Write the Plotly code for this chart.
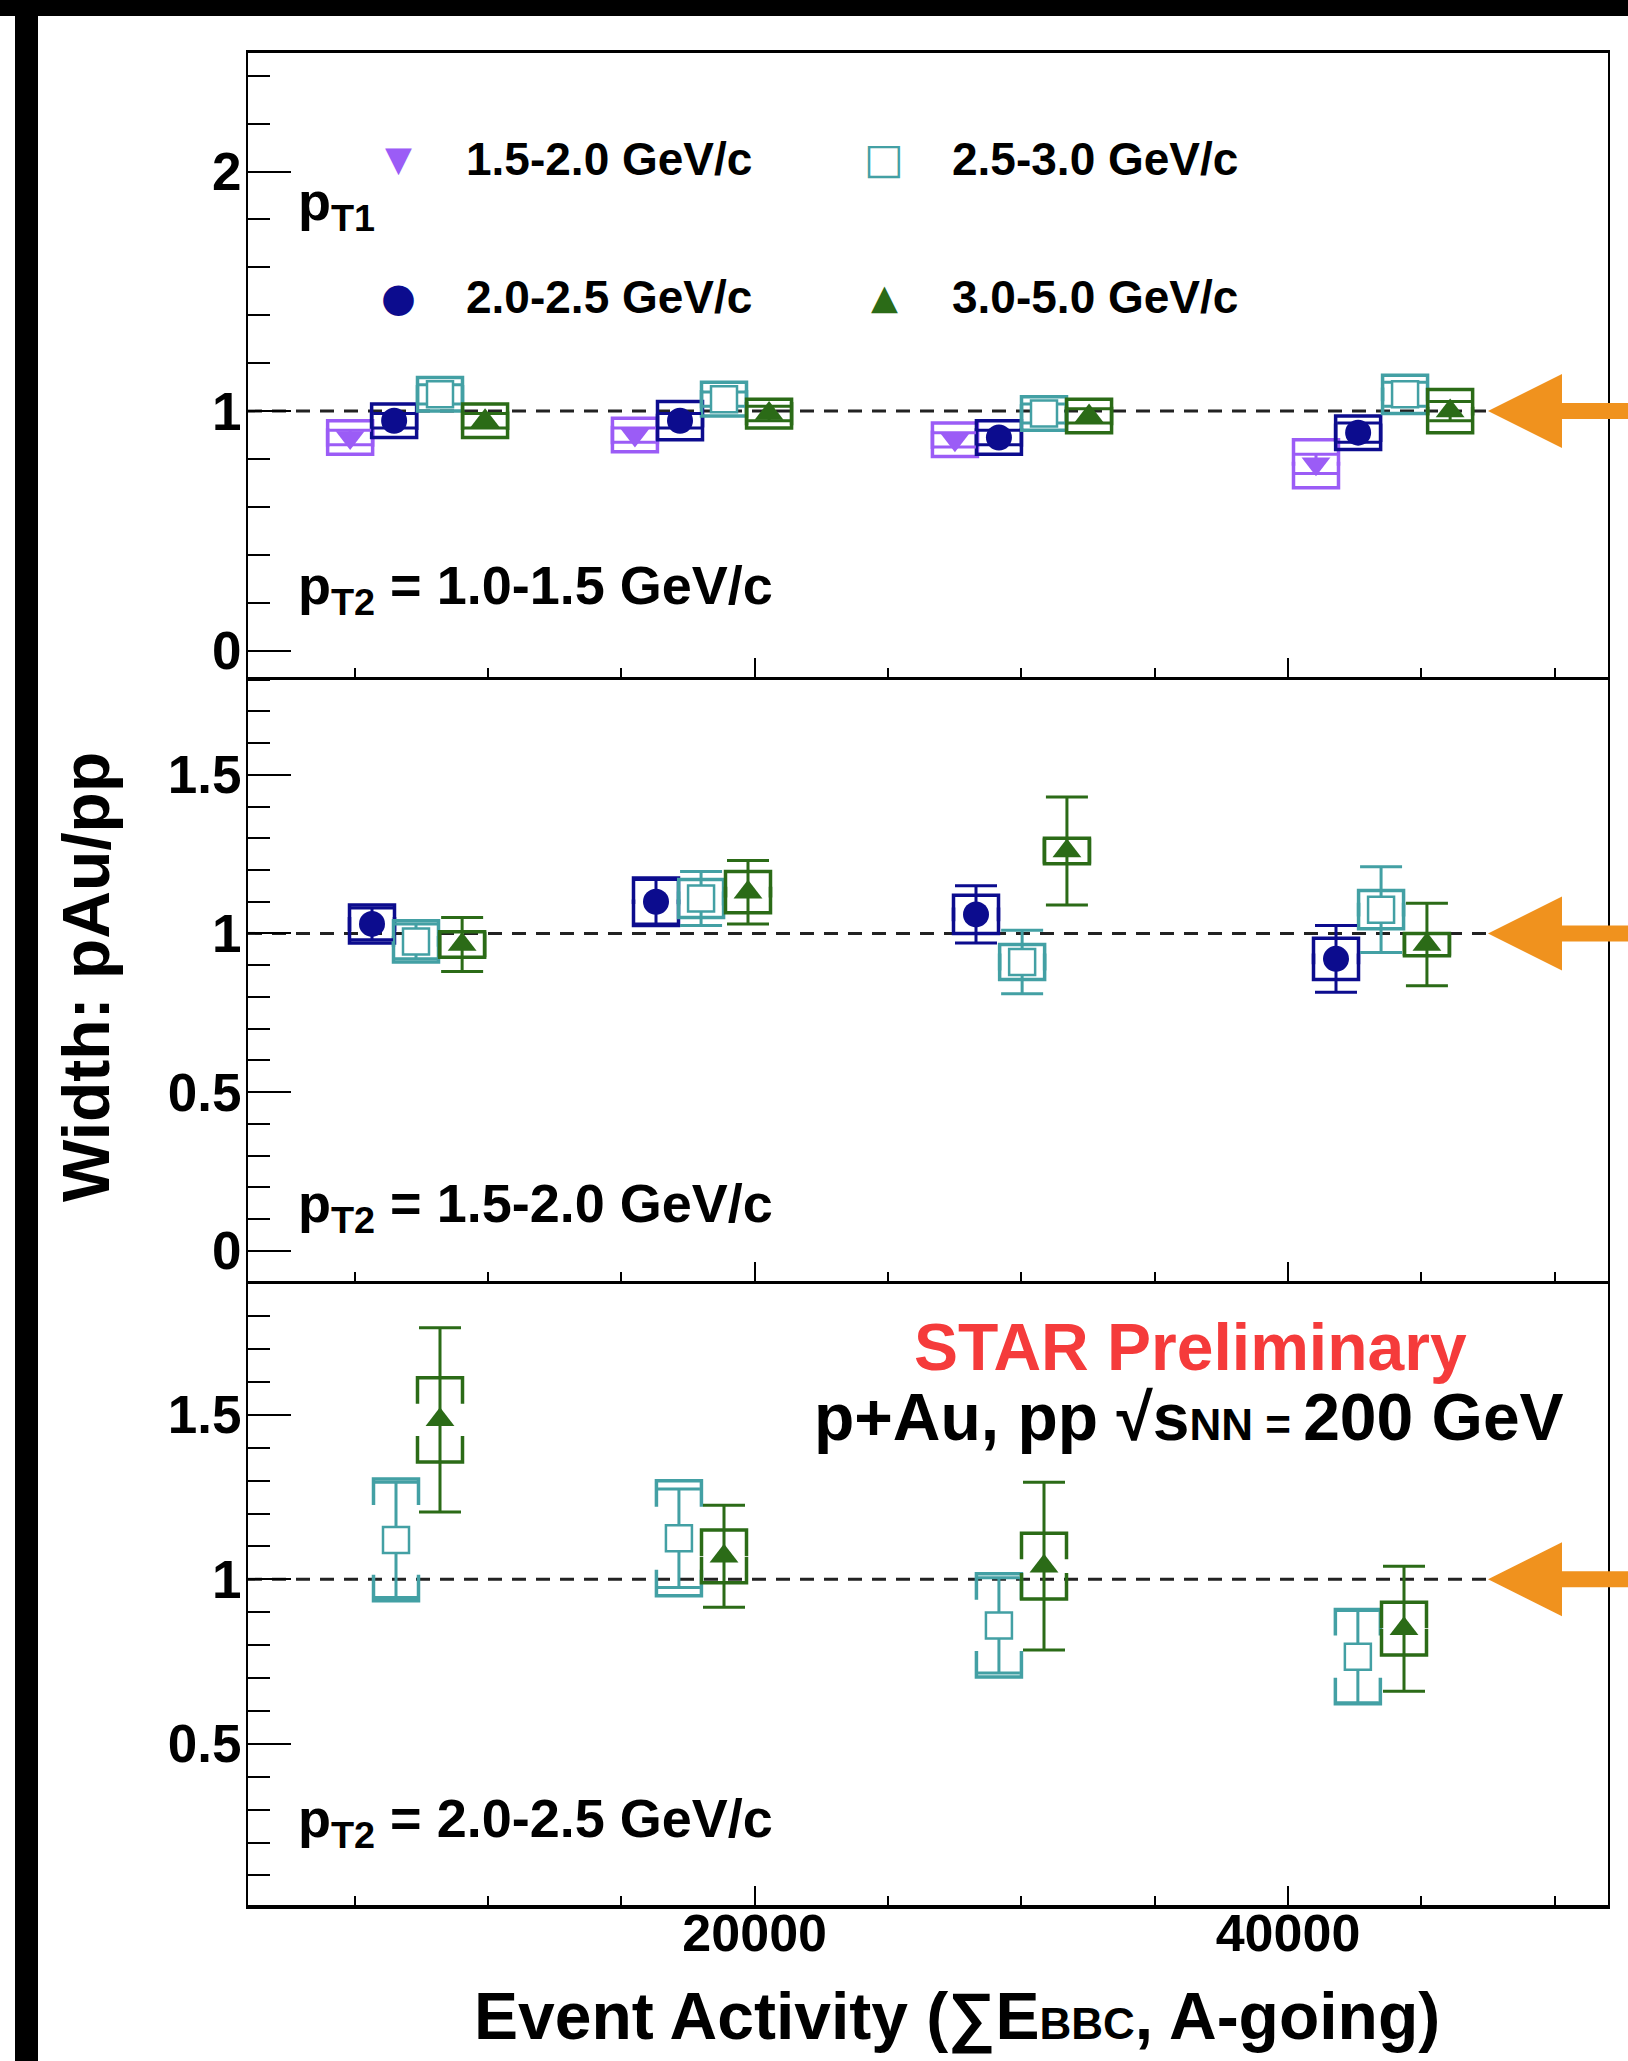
import plotly.graph_objects as go

# ---------------- data ----------------
X_RANGE = [1000, 52000]
REF_Y = 1.0
REF_X_END = 47500

PT1_LABELS = ["1.5-2.0 GeV/c", "2.0-2.5 GeV/c", "2.5-3.0 GeV/c", "3.0-5.0 GeV/c"]
PT2_LABELS = ["1.0-1.5 GeV/c", "1.5-2.0 GeV/c", "2.0-2.5 GeV/c"]

# panel 1 : pT2 = 1.0-1.5 GeV/c
p1_pur_x = [4830, 15510, 27510, 41050]
p1_pur_y = [0.89, 0.90, 0.88, 0.78]
p1_pur_stat = [0.03, 0.03, 0.03, 0.04]
p1_pur_sys = [0.07, 0.07, 0.07, 0.10]

p1_blu_x = [6480, 17200, 29160, 42630]
p1_blu_y = [0.96, 0.96, 0.89, 0.91]
p1_blu_stat = [0.03, 0.03, 0.03, 0.04]
p1_blu_sys = [0.07, 0.08, 0.07, 0.07]

p1_cyn_x = [8200, 18850, 30850, 44390]
p1_cyn_y = [1.07, 1.05, 0.99, 1.07]
p1_cyn_stat = [0.04, 0.03, 0.04, 0.05]
p1_cyn_sys = [0.07, 0.07, 0.07, 0.08]

p1_grn_x = [9890, 20540, 32540, 46080]
p1_grn_y = [0.96, 0.99, 0.98, 1.00]
p1_grn_stat = [0.03, 0.03, 0.03, 0.04]
p1_grn_sys = [0.07, 0.06, 0.07, 0.09]

# panel 2 : pT2 = 1.5-2.0 GeV/c
p2_blu_x = [5650, 16300, 28300, 41800]
p2_blu_y = [1.03, 1.10, 1.06, 0.92]
p2_blu_stat = [0.05, 0.07, 0.09, 0.105]
p2_blu_sys = [0.06, 0.075, 0.06, 0.065]

p2_cyn_x = [7300, 17990, 30030, 43490]
p2_cyn_y = [0.975, 1.11, 0.91, 1.075]
p2_cyn_stat = [0.055, 0.085, 0.10, 0.135]
p2_cyn_sys = [0.065, 0.06, 0.055, 0.06]

p2_grn_x = [9030, 19750, 31710, 45210]
p2_grn_y = [0.965, 1.13, 1.26, 0.965]
p2_grn_stat = [0.085, 0.10, 0.17, 0.13]
p2_grn_sys = [0.04, 0.065, 0.04, 0.035]

# panel 3 : pT2 = 2.0-2.5 GeV/c
p3_cyn_x = [6550, 17160, 29160, 42620]
p3_cyn_y = [1.12, 1.125, 0.86, 0.765]
p3_cyn_stat = [0.175, 0.15, 0.145, 0.14]
p3_cyn_sys = [0.185, 0.175, 0.157, 0.143]

p3_grn_x = [8200, 18850, 30850, 44350]
p3_grn_y = [1.485, 1.07, 1.04, 0.85]
p3_grn_stat = [0.28, 0.155, 0.255, 0.19]
p3_grn_sys = [0.128, 0.08, 0.10, 0.08]

# ---------------- styles ----------------
COL = {"pur": "#9b5cf6", "blu": "#0c0c8e", "cyn": "#43a0a4", "grn": "#2b6b17"}
SYM = {"pur": "triangle-down", "blu": "circle", "cyn": "square", "grn": "triangle-up"}
MSIZE = {"pur": 25, "blu": 26, "cyn": 26, "grn": 25}
ORANGE = "#f0921e"
FONT = "Liberation Sans, Arial, Helvetica, sans-serif"

W, H = 1628, 2061
ML, MR, MT, MB = 248, 20, 53, 156
PW, PH = W - ML - MR, H - MT - MB

def px2x(px):
    return (px - ML) / PW

def py2y(py):
    return (H - MB - py) / PH

# panel pixel extents (top, bottom) and y ranges
PANEL_PX = [(53, 677), (677, 1281), (1281, 1905)]
Y_RANGES = [[-0.11, 2.495], [-0.095, 1.808], [0.01, 1.907]]
Y_DTICK = [1, 0.5, 0.5]
Y_MINOR = [0.2, 0.1, 0.1]
DOMAINS = [[py2y(b), py2y(t)] for (t, b) in PANEL_PX]

panels = [
    [("pur", p1_pur_x, p1_pur_y, p1_pur_stat, p1_pur_sys),
     ("blu", p1_blu_x, p1_blu_y, p1_blu_stat, p1_blu_sys),
     ("cyn", p1_cyn_x, p1_cyn_y, p1_cyn_stat, p1_cyn_sys),
     ("grn", p1_grn_x, p1_grn_y, p1_grn_stat, p1_grn_sys)],
    [("blu", p2_blu_x, p2_blu_y, p2_blu_stat, p2_blu_sys),
     ("cyn", p2_cyn_x, p2_cyn_y, p2_cyn_stat, p2_cyn_sys),
     ("grn", p2_grn_x, p2_grn_y, p2_grn_stat, p2_grn_sys)],
    [("cyn", p3_cyn_x, p3_cyn_y, p3_cyn_stat, p3_cyn_sys),
     ("grn", p3_grn_x, p3_grn_y, p3_grn_stat, p3_grn_sys)],
]

BOX_HALF_PX = 22.5
BRACKET_PX = 26
box_hw = BOX_HALF_PX * (X_RANGE[1] - X_RANGE[0]) / PW

fig = go.Figure()

for i, series in enumerate(panels):
    xa = "x" if i == 0 else f"x{i+1}"
    ya = "y" if i == 0 else f"y{i+1}"
    r0, r1 = Y_RANGES[i]
    ppu = (PANEL_PX[i][1] - PANEL_PX[i][0]) / (r1 - r0)
    tick = BRACKET_PX / ppu
    # reference line at 1
    fig.add_trace(go.Scatter(x=[X_RANGE[0], REF_X_END], y=[REF_Y, REF_Y], mode="lines",
                             line=dict(color="#222222", width=3, dash="14px,10px"),
                             xaxis=xa, yaxis=ya, showlegend=False, hoverinfo="skip"))
    # systematic brackets
    for key, xs, ys, st, sy in series:
        bx, by = [], []
        for x, y, s in zip(xs, ys, sy):
            top, bot = y + s, y - s
            t = min(tick, top - bot)
            bx += [x - box_hw, x - box_hw, x + box_hw, x + box_hw, None,
                   x - box_hw, x - box_hw, x + box_hw, x + box_hw, None]
            by += [top - t, top, top, top - t, None, bot + t, bot, bot, bot + t, None]
        fig.add_trace(go.Scatter(x=bx, y=by, mode="lines",
                                 line=dict(color=COL[key], width=3.5),
                                 xaxis=xa, yaxis=ya, showlegend=False, hoverinfo="skip"))
    # points with statistical errors
    for key, xs, ys, st, sy in series:
        if key == "cyn":
            marker = dict(symbol="square", size=MSIZE[key], color="white",
                          line=dict(color=COL[key], width=2.5))
        else:
            marker = dict(symbol=SYM[key], size=MSIZE[key], color=COL[key],
                          line=dict(width=0))
        fig.add_trace(go.Scatter(x=xs, y=ys, mode="markers", marker=marker,
                                 error_y=dict(type="data", array=st, symmetric=True,
                                              color=COL[key], thickness=3, width=21),
                                 xaxis=xa, yaxis=ya, showlegend=False))

layout = dict(
    width=W, height=H, template="none",
    paper_bgcolor="white", plot_bgcolor="white",
    margin=dict(l=ML, r=MR, t=MT, b=MB, autoexpand=False),
    font=dict(family=FONT, color="black"),
    showlegend=False,
)

for i in range(3):
    xkey = "xaxis" if i == 0 else f"xaxis{i+1}"
    ykey = "yaxis" if i == 0 else f"yaxis{i+1}"
    yname = "y" if i == 0 else f"y{i+1}"
    xname = "x" if i == 0 else f"x{i+1}"
    xax = dict(
        range=X_RANGE, domain=[0, 1], anchor=yname,
        showline=True, mirror=(i == 0), linecolor="black",
        linewidth=3.5 if i == 2 else 2.5,
        ticks="inside", tickcolor="black", ticklen=19, tickwidth=2,
        tick0=0, dtick=20000, tickformat="d",
        minor=dict(ticks="inside", tick0=0, dtick=5000, ticklen=9, tickwidth=2, tickcolor="black"),
        showgrid=False, zeroline=False,
        showticklabels=(i == 2),
        ticklabelstandoff=-20,
        tickfont=dict(family=FONT, size=52, weight="bold", color="black"),
    )
    if i > 0:
        xax["matches"] = "x"
    layout[xkey] = xax
    layout[ykey] = dict(
        range=Y_RANGES[i], domain=DOMAINS[i], anchor=xname,
        showline=True, mirror=True, linecolor="black", linewidth=2,
        ticks="inside", tickcolor="black", ticklen=43, tickwidth=2,
        tick0=0, dtick=Y_DTICK[i],
        minor=dict(ticks="inside", tick0=0, dtick=Y_MINOR[i], ticklen=22, tickwidth=2, tickcolor="black"),
        showgrid=False, zeroline=False,
        ticklabelstandoff=-6,
        tickfont=dict(family=FONT, size=53, weight="bold", color="black"),
    )
fig.update_layout(**layout)

# ---------------- decorations ----------------
shapes = []
# black frame remnants of the slide
shapes.append(dict(type="rect", xref="paper", yref="paper",
                   x0=px2x(0), x1=px2x(W), y0=py2y(16), y1=py2y(0),
                   fillcolor="black", line=dict(width=0), layer="above"))
shapes.append(dict(type="rect", xref="paper", yref="paper",
                   x0=px2x(15), x1=px2x(38), y0=py2y(H), y1=py2y(0),
                   fillcolor="black", line=dict(width=0), layer="above"))
# orange arrows at y = 1
arrow_x = (REF_X_END - X_RANGE[0]) / (X_RANGE[1] - X_RANGE[0])
for i in range(3):
    r0, r1 = Y_RANGES[i]
    d0, d1 = DOMAINS[i]
    ay = d0 + (REF_Y - r0) / (r1 - r0) * (d1 - d0)
    shapes.append(dict(type="path", xref="paper", yref="paper",
                       xsizemode="pixel", ysizemode="pixel",
                       xanchor=arrow_x, yanchor=ay,
                       path="M0,0 L74,37 L74,8 L190,8 L190,-8 L74,-8 L74,-37 Z",
                       fillcolor=ORANGE, line=dict(width=0), layer="above"))
fig.update_layout(shapes=shapes)

ann = []
def text(px, py, s, size, xanchor="left", color="black", family=FONT, angle=0):
    ann.append(dict(x=px2x(px), y=py2y(py), xref="paper", yref="paper", text=s,
                    showarrow=False, xanchor=xanchor, yanchor="middle", textangle=angle,
                    font=dict(family=family, size=size, color=color, weight="bold")))

# legend (2 x 2)
GLYPH = {"pur": "\u25BC", "blu": "\u25CF", "cyn": "\u25A1", "grn": "\u25B2"}
GSIZE = {"pur": 35, "blu": 40, "cyn": 42, "grn": 35}
legend_keys = [("pur", PT1_LABELS[0], 398, 159), ("cyn", PT1_LABELS[2], 884, 159),
               ("blu", PT1_LABELS[1], 398, 297), ("grn", PT1_LABELS[3], 884, 297)]
for key, lab, sx, sy in legend_keys:
    ann.append(dict(x=px2x(sx), y=py2y(sy), xref="paper", yref="paper", text=GLYPH[key],
                    showarrow=False, xanchor="center", yanchor="middle",
                    font=dict(family="DejaVu Sans", size=GSIZE[key], color=COL[key])))
    text(sx + 66, sy, lab, 46)

text(296, 205, "p<sub>T1</sub>", 54)
for lab, py in zip(PT2_LABELS, [589, 1207, 1822]):
    text(296, py, "p<sub>T2</sub> = " + lab, 54)

text(1190, 1347, "STAR Preliminary", 66, xanchor="center", color="#f53b3b")
text(1566, 1417,
     "p+Au, pp \u221As<span style='font-size:44px'>NN = </span>200 GeV", 66, xanchor="right")

# axis titles
text(86, 977, "Width: pAu/pp", 66, xanchor="center", angle=-90)
text(957, 2017,
     "Event Activity (\u2211E<span style='font-size:44px'>BBC</span>, A-going)", 66, xanchor="center")

fig.update_layout(annotations=ann)

fig.write_html("out.html")
